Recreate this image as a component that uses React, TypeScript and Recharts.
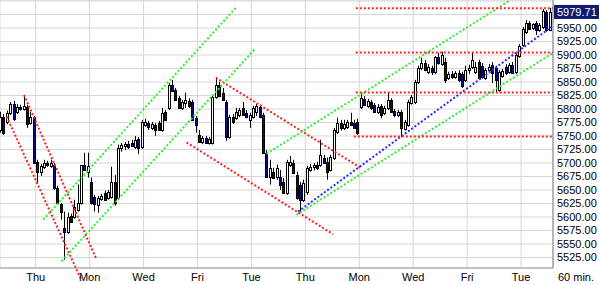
import {
  ComposedChart,
  Bar,
  XAxis,
  YAxis,
  CartesianGrid,
  ReferenceLine,
  Label,
} from "recharts";

// 60 min candles: [open, high, low, close]
const candles: [number, number, number, number][] = [
  [5761, 5795, 5756, 5785], [5785, 5791, 5752, 5756], [5776, 5797, 5772, 5793],
  [5793, 5813, 5789, 5809], [5809, 5815, 5778, 5782], [5795, 5809, 5791, 5804],
  [5804, 5808, 5797, 5800], [5800, 5824, 5797, 5806], [5804, 5808, 5765, 5773],
  [5774, 5795, 5771, 5785],
  // Thu
  [5785, 5787, 5698, 5700], [5702, 5706, 5663, 5684], [5684, 5698, 5676, 5695],
  [5693, 5706, 5689, 5700], [5700, 5704, 5693, 5697], [5695, 5706, 5691, 5700],
  [5697, 5700, 5650, 5654], [5654, 5658, 5623, 5626], [5624, 5626, 5595, 5610],
  [5580, 5610, 5521, 5573], [5573, 5608, 5569, 5600], [5602, 5606, 5589, 5591],
  [5600, 5632, 5597, 5619], [5613, 5660, 5610, 5626], [5626, 5678, 5623, 5697],
  [5697, 5719, 5686, 5687], [5684, 5719, 5673, 5695],
  // Mon
  [5665, 5673, 5623, 5626], [5637, 5641, 5610, 5624], [5623, 5639, 5608, 5636],
  [5634, 5643, 5630, 5639], [5645, 5649, 5630, 5632], [5636, 5650, 5632, 5647],
  [5637, 5693, 5634, 5665], [5665, 5678, 5621, 5626], [5636, 5734, 5632, 5728],
  [5728, 5737, 5721, 5734], [5732, 5739, 5724, 5735], [5735, 5741, 5726, 5730],
  [5737, 5743, 5730, 5732], [5730, 5750, 5726, 5743], [5745, 5748, 5717, 5728],
  [5730, 5780, 5726, 5776],
  // Wed
  [5771, 5782, 5767, 5776], [5774, 5778, 5761, 5767], [5765, 5776, 5761, 5772],
  [5771, 5774, 5750, 5761], [5774, 5778, 5760, 5761], [5761, 5802, 5758, 5793],
  [5795, 5798, 5778, 5780], [5802, 5848, 5798, 5845], [5845, 5854, 5832, 5833],
  [5835, 5839, 5815, 5817], [5820, 5824, 5800, 5802], [5802, 5817, 5798, 5813],
  [5811, 5830, 5802, 5817], [5815, 5820, 5802, 5806], [5813, 5817, 5778, 5780],
  [5783, 5787, 5756, 5771],
  // Fri
  [5752, 5761, 5737, 5739], [5739, 5750, 5735, 5746], [5746, 5750, 5735, 5737],
  [5737, 5748, 5734, 5745], [5737, 5824, 5734, 5822], [5822, 5859, 5819, 5845],
  [5845, 5850, 5822, 5824], [5830, 5839, 5815, 5817], [5813, 5817, 5741, 5748],
  [5748, 5789, 5745, 5785], [5785, 5791, 5772, 5776], [5783, 5802, 5780, 5795],
  [5789, 5802, 5785, 5798], [5802, 5813, 5787, 5789], [5793, 5798, 5783, 5785],
  [5780, 5793, 5765, 5789],
  // Tue
  [5785, 5806, 5782, 5802], [5795, 5809, 5787, 5806], [5804, 5808, 5783, 5785],
  [5789, 5793, 5717, 5719], [5719, 5724, 5672, 5674], [5674, 5706, 5660, 5691],
  [5684, 5691, 5671, 5672], [5674, 5697, 5669, 5691], [5674, 5687, 5650, 5660],
  [5665, 5672, 5643, 5645], [5645, 5706, 5641, 5702], [5697, 5713, 5693, 5702],
  [5700, 5706, 5680, 5682], [5678, 5684, 5632, 5635], [5660, 5665, 5608, 5632],
  [5632, 5669, 5628, 5663],
  // Thu
  [5647, 5695, 5641, 5691], [5687, 5698, 5684, 5693], [5693, 5700, 5686, 5697],
  [5697, 5702, 5687, 5691], [5697, 5743, 5693, 5715], [5710, 5715, 5698, 5700],
  [5702, 5710, 5669, 5684], [5687, 5715, 5684, 5711], [5710, 5765, 5706, 5761],
  [5758, 5784, 5754, 5774], [5774, 5780, 5760, 5765], [5765, 5780, 5761, 5772],
  [5767, 5780, 5763, 5776], [5776, 5793, 5769, 5771], [5774, 5780, 5763, 5765],
  [5776, 5782, 5752, 5756],
  // Mon
  [5804, 5828, 5800, 5820], [5819, 5824, 5806, 5808], [5806, 5819, 5802, 5815],
  [5813, 5817, 5798, 5802], [5808, 5811, 5793, 5795], [5795, 5809, 5791, 5804],
  [5806, 5809, 5783, 5789], [5793, 5806, 5789, 5802], [5802, 5830, 5798, 5817],
  [5817, 5820, 5793, 5795], [5796, 5800, 5785, 5789], [5789, 5798, 5785, 5795],
  [5795, 5798, 5748, 5765], [5763, 5780, 5760, 5776], [5771, 5817, 5767, 5813],
  [5811, 5826, 5808, 5822],
  // Wed
  [5813, 5854, 5809, 5850], [5850, 5880, 5846, 5876], [5876, 5895, 5872, 5885],
  [5885, 5891, 5870, 5872], [5869, 5883, 5865, 5878], [5876, 5880, 5863, 5869],
  [5869, 5898, 5865, 5896], [5896, 5904, 5882, 5885], [5883, 5906, 5880, 5900],
  [5887, 5895, 5848, 5854], [5858, 5869, 5854, 5865], [5865, 5870, 5856, 5859],
  [5859, 5870, 5856, 5867], [5867, 5872, 5850, 5854], [5865, 5869, 5839, 5843],
  [5854, 5880, 5850, 5872],
  // Fri
  [5872, 5882, 5865, 5876], [5878, 5904, 5874, 5891], [5869, 5887, 5865, 5878],
  [5887, 5891, 5856, 5858], [5880, 5885, 5856, 5859], [5858, 5876, 5854, 5872],
  [5872, 5883, 5867, 5878], [5882, 5887, 5848, 5867], [5876, 5880, 5830, 5854],
  [5835, 5872, 5832, 5869], [5861, 5874, 5858, 5870], [5878, 5883, 5863, 5867],
  [5869, 5885, 5865, 5882], [5882, 5887, 5865, 5867], [5869, 5904, 5865, 5900],
  [5898, 5920, 5895, 5917],
  // Tue
  [5919, 5952, 5915, 5948], [5943, 5965, 5939, 5959], [5959, 5963, 5946, 5948],
  [5950, 5959, 5946, 5957], [5959, 5963, 5937, 5946], [5946, 5959, 5943, 5956],
  [5952, 5985, 5948, 5981], [5980, 5983, 5943, 5946], [5946, 5987, 5944, 5979.71],
];

const dayTicks = [11, 27, 43, 59, 75, 91, 107, 123, 139, 155];
const dayLabels = ["Thu", "Mon", "Wed", "Fri", "Tue", "Thu", "Mon", "Wed", "Fri", "Tue"];
const priceTicks = [
  5525, 5550, 5575, 5600, 5625, 5650, 5675, 5700, 5725, 5750, 5775, 5800,
  5825, 5850, 5875, 5900, 5925, 5950, 5975, 6000,
];
const lastPrice = 5979.71;

// trend lines: [x1, y1, x2, y2] in bar index / price
const redLines = [
  [2.4, 5786, 24.64, 5482],
  [7.53, 5826, 29.09, 5521],
  [64.46, 5858, 107.66, 5690],
  [55.77, 5738, 99.24, 5568],
];
const greenLines = [
  [13.25, 5595, 70.6, 5989],
  [18.71, 5518, 76.03, 5911],
  [79.49, 5717, 151.64, 6001],
  [88.39, 5604, 164.47, 5904],
];
const blueLines = [[88.86, 5610, 164.47, 5954]];
const levels = [
  [105.97, 5986.5],
  [105.97, 5904.4],
  [105.97, 5830.4],
  [105.38, 5749],
];

const data = candles.map(([o, h, l, c], i) => ({ t: i + 0.5, o, h, l, c, range: [l, h] }));

const FONT = "'Liberation Sans', Arial, sans-serif";

function Candle(props: any) {
  const { x, y, width, height, payload } = props;
  const { o, h, l, c } = payload;
  const cx = Math.round(x + width / 2) + 0.5;
  const k = height / (h - l);
  const py = (v: number) => y + (h - v) * k;
  const top = Math.round(py(Math.max(o, c))) + 0.5;
  let bot = Math.round(py(Math.min(o, c))) + 0.5;
  if (bot - top < 1) bot = top + 1;
  return (
    <g>
      <line x1={cx} x2={cx} y1={y} y2={y + height} stroke="#000" strokeWidth={1} />
      <rect
        x={cx - 1}
        y={top}
        width={2}
        height={bot - top}
        fill={c >= o ? "#fff" : "#0a0a8c"}
        stroke="#000"
        strokeWidth={1}
      />
    </g>
  );
}

function PriceTick(props: any) {
  const { x, y, payload } = props;
  if (payload.value >= 5975) return null;
  return (
    <text x={x} y={y} dy="0.36em" textAnchor="start" fontSize={11} fontFamily={FONT} fill="#000">
      {payload.value.toFixed(2)}
    </text>
  );
}

function LastBox(props: any) {
  const { viewBox } = props;
  const bx = viewBox.x + viewBox.width + 1;
  return (
    <g>
      <rect x={bx} y={viewBox.y - 7} width={45} height={14} fill="#0c1a72" />
      <text x={bx + 3} y={viewBox.y} dy="0.36em" fontSize={11} fontFamily={FONT} fill="#fff">
        {lastPrice.toFixed(2)}
      </text>
    </g>
  );
}

const seg = (s: number[], color: string, key: string) => (
  <ReferenceLine
    key={key}
    segment={[{ x: s[0], y: s[1] }, { x: s[2], y: s[3] }]}
    stroke={color}
    strokeWidth={2}
    strokeDasharray="2 2"
    ifOverflow="visible"
  />
);

export default function App() {
  return (
    <div style={{ position: "absolute", left: 0, top: 0, background: "#fff" }}>
      <ComposedChart width={599} height={284} data={data} margin={{ top: 0, right: 0, bottom: 0, left: 0 }}>
        <CartesianGrid stroke="#d6d6d6" strokeWidth={1} />
        <XAxis
          type="number"
          dataKey="t"
          domain={[0.414, 164.47]}
          allowDataOverflow
          ticks={dayTicks}
          interval={0}
          tickFormatter={(v: number) => dayLabels[dayTicks.indexOf(v)]}
          height={16}
          tickLine={false}
          tickSize={0}
          tickMargin={5}
          axisLine={{ stroke: "#999" }}
          tick={{ fontSize: 11, fontFamily: FONT, fill: "#000" }}
        />
        <YAxis
          orientation="right"
          type="number"
          domain={[5505.5, 6001.85]}
          allowDataOverflow
          ticks={priceTicks}
          interval={0}
          width={46}
          tickLine={false}
          tickSize={0}
          tickMargin={4}
          axisLine={{ stroke: "#808080" }}
          tick={<PriceTick />}
        >
          <Label value="60 min." position="bottom" offset={5} fontSize={11} fontFamily={FONT} fill="#000" />
        </YAxis>
        <Bar dataKey="range" barSize={3} shape={<Candle />} isAnimationActive={false} />
        {redLines.map((s, i) => seg(s, "#ff2020", "r" + i))}
        {greenLines.map((s, i) => seg(s, "#30ee30", "g" + i))}
        {blueLines.map((s, i) => seg(s, "#2828ff", "b" + i))}
        {levels.map((s, i) => seg([s[0], s[1], 164.47, s[1]], "#ff2020", "h" + i))}
        <ReferenceLine y={lastPrice} stroke="none" ifOverflow="visible" label={<LastBox />} />
      </ComposedChart>
    </div>
  );
}
